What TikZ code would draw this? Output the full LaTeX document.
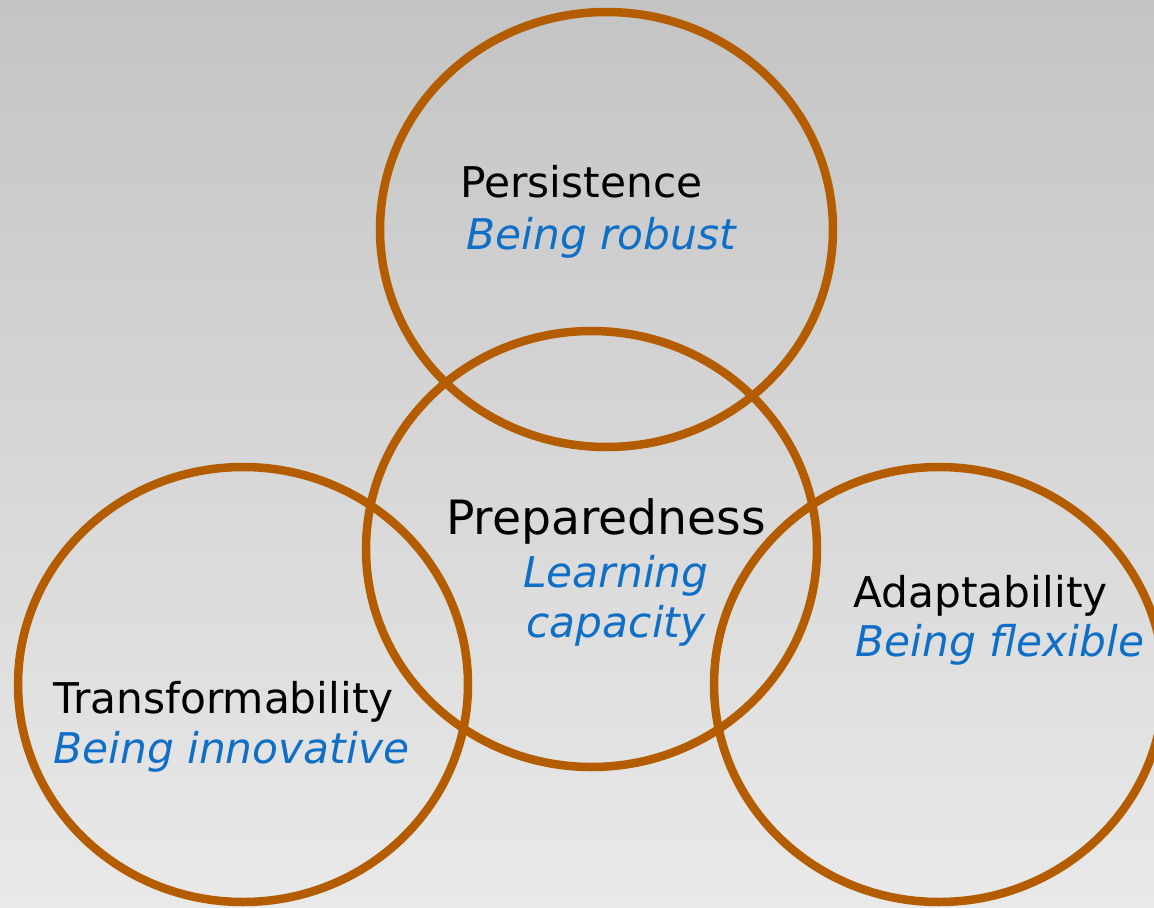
\documentclass[tikz,border=0pt]{standalone}
\usepackage{fontspec}
\setmainfont{DejaVu Sans}
\definecolor{ringbrown}{RGB}{180,93,0}
\definecolor{subblue}{RGB}{15,111,198}
\definecolor{bgtop}{RGB}{196,196,196}
\definecolor{bgbottom}{RGB}{233,233,233}

\begin{document}
\begin{tikzpicture}[x=0.02cm,y=-0.02cm,
  ring/.style={draw=ringbrown,line width=0.17cm},
  head/.style={inner sep=0pt,anchor=base west,font=\fontsize{24.1}{29}\selectfont},
  sub/.style={head,text=subblue,font=\fontsize{24.1}{29}\selectfont\itshape}]
\useasboundingbox (0,0) rectangle (1154,907);
\shade [top color=bgtop,bottom color=bgbottom] (0,0) rectangle (1154,907);
% rings
\draw [ring] (606.5,229.5) ellipse [x radius=226.5,y radius=217.5];
\draw [ring] (591.5,549) ellipse [x radius=225.5,y radius=218];
\draw [ring] (243,684.5) ellipse [x radius=225,y radius=217.5];
\draw [ring] (939,684.5) ellipse [x radius=225,y radius=217.5];
% labels
\node [head] (persist) at (460,197) {Persistence};
\node [sub] (robust) at (466,249) {Being robust};
\node [head,anchor=base,font=\fontsize{26.9}{32}\selectfont] (prepare) at (606,534) {Preparedness};
\node [sub,anchor=base] (learn) at (616,587) {Learning};
\node [sub,anchor=base] (capac) at (616,637) {capacity};
\node [head] (adapt) at (853,607) {Adaptability};
\node [sub] (flex) at (855,656) {Being flexible};
\node [head] (transf) at (53,713) {Transformability};
\node [sub] (innov) at (53,763) {Being innovative};
\end{tikzpicture}
\end{document}
